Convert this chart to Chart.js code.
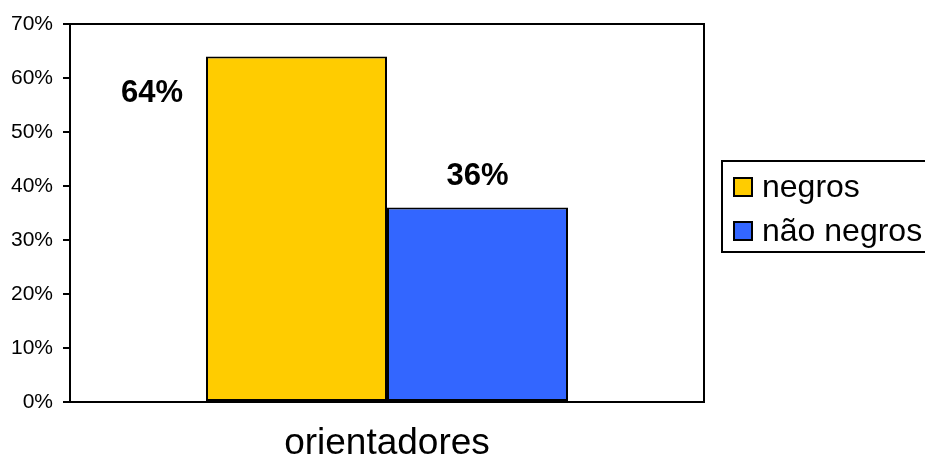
<!DOCTYPE html>
<html>
<head>
<meta charset="utf-8">
<script src="https://cdn.jsdelivr.net/npm/chart.js@4/dist/chart.umd.min.js"></script>
<style>
  html, body { margin: 0; padding: 0; background: #fff; }
  #wrap { width: 925px; height: 468px; }
</style>
</head>
<body>
<div id="wrap"><canvas id="barChart" width="925" height="468"></canvas></div>
<script>
// chart data
const categories = ['orientadores'];
const seriesNames = ['negros', 'não negros'];
const negros = [64];
const naoNegros = [36];
const yTicks = [0, 10, 20, 30, 40, 50, 60, 70];

const FONT = '"Liberation Sans", Arial, sans-serif';

// frame around the plot area
const frame = {
    id: 'frame',
    afterDatasetsDraw(chart) {
        const { ctx, chartArea: a } = chart;
        ctx.save();
        ctx.strokeStyle = '#000';
        ctx.lineWidth = 2;
        ctx.strokeRect(a.left, a.top, a.right - a.left, a.bottom - a.top);
        ctx.restore();
    }
};

// value labels in bold
const valueLabels = {
    id: 'valueLabels',
    afterDatasetsDraw(chart) {
        const ctx = chart.ctx;
        ctx.save();
        ctx.font = 'bold 31px ' + FONT;
        ctx.fillStyle = '#000';
        ctx.textAlign = 'center';
        ctx.textBaseline = 'middle';
        chart.data.datasets.forEach((ds, i) => {
            chart.getDatasetMeta(i).data.forEach((bar, j) => {
                const txt = ds.data[j] + '%';
                if (i === 0) {
                    ctx.fillText(txt, bar.x - bar.width / 2 - 54, bar.y + 37);
                } else {
                    ctx.fillText(txt, bar.x, bar.y - 31);
                }
            });
        });
        ctx.restore();
    }
};

// boxed legend on the right
const boxLegend = {
    id: 'boxLegend',
    afterDraw(chart) {
        const ctx = chart.ctx;
        const x = 722, y = 161, w = 210, h = 91;
        ctx.save();
        ctx.strokeStyle = '#000';
        ctx.lineWidth = 2;
        ctx.strokeRect(x, y, w, h);
        ctx.font = '32px ' + FONT;
        ctx.textBaseline = 'middle';
        chart.data.datasets.forEach((ds, i) => {
            const cy = y + 26 + i * 44;
            ctx.fillStyle = ds.backgroundColor;
            ctx.fillRect(734, cy - 9, 18, 18);
            ctx.lineWidth = 2;
            ctx.strokeRect(734, cy - 9, 18, 18);
            ctx.fillStyle = '#000';
            ctx.fillText(ds.label, 762, cy + 1);
        });
        ctx.restore();
    }
};

new Chart(document.getElementById('barChart'), {
    type: 'bar',
    data: {
        labels: categories,
        datasets: [{
            label: seriesNames[0],
            data: negros,
            backgroundColor: '#FFCC00',
            borderColor: '#000',
            borderWidth: 2,
            borderSkipped: false
        }, {
            label: seriesNames[1],
            data: naoNegros,
            backgroundColor: '#3366FF',
            borderColor: '#000',
            borderWidth: 2,
            borderSkipped: false
        }]
    },
    options: {
        responsive: false,
        animation: false,
        layout: { padding: { top: 24, right: 221, left: 0, bottom: 0 } },
        datasets: {
            bar: { barPercentage: 1, categoryPercentage: 0.571 }
        },
        plugins: {
            legend: { display: false },
            tooltip: { enabled: false }
        },
        scales: {
            y: {
                min: 0,
                max: 70,
                afterBuildTicks(scale) {
                    scale.ticks = yTicks.map(v => ({ value: v }));
                },
                afterFit(scale) { scale.width = 70; },
                ticks: {
                    callback: v => v + '%',
                    color: '#000',
                    padding: 10,
                    font: { family: FONT, size: 21 }
                },
                grid: { drawOnChartArea: false, tickLength: 7, color: '#000', lineWidth: 2 },
                border: { color: '#000', width: 2 }
            },
            x: {
                afterFit(scale) { scale.height = 66; },
                ticks: {
                    color: '#000',
                    padding: 12,
                    font: { family: FONT, size: 37 }
                },
                grid: { display: false },
                border: { color: '#000', width: 2 }
            }
        }
    },
    plugins: [frame, valueLabels, boxLegend]
});
</script>
</body>
</html>
